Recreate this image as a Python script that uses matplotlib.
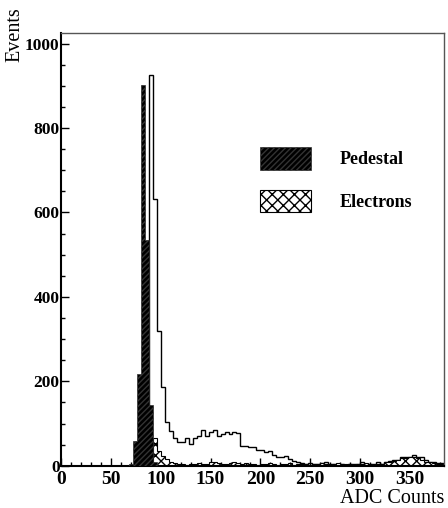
import numpy as np
import matplotlib
matplotlib.use("Agg")
import matplotlib.pyplot as plt
from matplotlib.patches import Patch
from matplotlib.ticker import MultipleLocator

plt.rcParams['font.family'] = ['Liberation Serif', 'DejaVu Serif']

# 4 ADC-count bins from 0 to 384
bin_edges = np.arange(0, 388, 4)

# all events above pedestal region (open histogram), starting at bin 88
all_start = 88
all_counts = [925, 631, 320, 186, 103, 83, 67, 56, 56, 67,
              52, 67, 71, 85, 71, 79, 85, 71, 75, 79,
              75, 79, 77, 48, 47, 45, 44, 38, 38, 32,
              34, 26, 22, 20, 24, 17, 12, 8, 6, 5,
              6, 5, 4, 6, 10, 5, 4, 5, 4, 3,
              5, 4, 5, 8, 5, 4, 5, 10, 5, 8,
              12, 15, 15, 21, 21, 22, 25, 21, 20, 14,
              10, 8, 7, 6]

# pedestal, starting at bin 68
ped_start = 68
ped_counts = [4, 58, 217, 903, 536, 145, 10]

# electrons (hatched), starting at bin 92
ele_start = 92
ele_counts = [67, 36, 24, 17, 8, 6, 4, 5, 3, 5,
              4, 6, 5, 4, 8, 10, 6, 5, 4, 6,
              8, 6, 5, 6, 4, 5, 3, 4, 5, 6,
              4, 3, 5, 4, 6, 3, 4, 5, 4, 3,
              5, 4, 6, 4, 3, 5, 6, 4, 5, 4,
              3, 5, 4, 6, 4, 3, 5, 4, 8, 10,
              12, 15, 18, 18, 20, 22, 18, 15, 10, 8,
              6, 5, 4]


def fill_bins(start, counts):
    h = np.zeros(len(bin_edges) - 1)
    i0 = start // 4
    h[i0:i0 + len(counts)] = counts
    return h


h_all = fill_bins(all_start, all_counts)
h_ped = fill_bins(ped_start, ped_counts)
h_ele = fill_bins(ele_start, ele_counts)

ped_style = dict(facecolor='black', edgecolor='#333333', hatch='//////', lw=0.5)
ele_style = dict(facecolor='white', edgecolor='black', hatch='xxx', lw=0.8)

fig = plt.figure(figsize=(4.48, 5.08), dpi=100)
ax = fig.add_axes([0.136, 0.083, 0.855, 0.852])

ax.stairs(h_all, bin_edges, color='black', lw=1.0, zorder=1)
ax.stairs(h_ele, bin_edges, fill=True, zorder=2, **ele_style)
ax.stairs(h_ped, bin_edges, fill=True, zorder=3, **ped_style)

ax.set_xlim(0, 384)
ax.set_ylim(0, 1025)

ax.xaxis.set_major_locator(MultipleLocator(50))
ax.xaxis.set_minor_locator(MultipleLocator(10))
ax.yaxis.set_major_locator(MultipleLocator(200))
ax.yaxis.set_minor_locator(MultipleLocator(50))
ax.tick_params(which='both', direction='in', top=False, right=False, width=1.0)
ax.tick_params(which='major', length=6)
ax.tick_params(which='minor', length=3)
ax.tick_params(axis='y', pad=1, labelsize=12.5)
ax.tick_params(axis='x', pad=4, labelsize=14)
for lbl in ax.get_xticklabels() + ax.get_yticklabels():
    lbl.set_fontweight('bold')

for side in ['left', 'bottom']:
    ax.spines[side].set_linewidth(1.5)
for side in ['top', 'right']:
    ax.spines[side].set_linewidth(1.0)
    ax.spines[side].set_color('#555555')

fig.text(0.993, 0.019, 'ADC Counts', ha='right', va='center', fontsize=14.5)
fig.text(0.034, 0.985, 'Events', rotation=90, ha='center', va='top', fontsize=14.5)

handles = [Patch(**ped_style), Patch(**ele_style)]
leg = ax.legend(handles, ['Pedestal', 'Electrons'], loc='upper left',
                bbox_to_anchor=(251 / 448, 1 - 138 / 508),
                bbox_transform=fig.transFigure, frameon=False,
                prop={'weight': 'bold', 'size': 13}, borderpad=0,
                handlelength=2.8, handleheight=1.55, handletextpad=1.6,
                labelspacing=1.1)

fig.savefig('out.png', dpi=100)
